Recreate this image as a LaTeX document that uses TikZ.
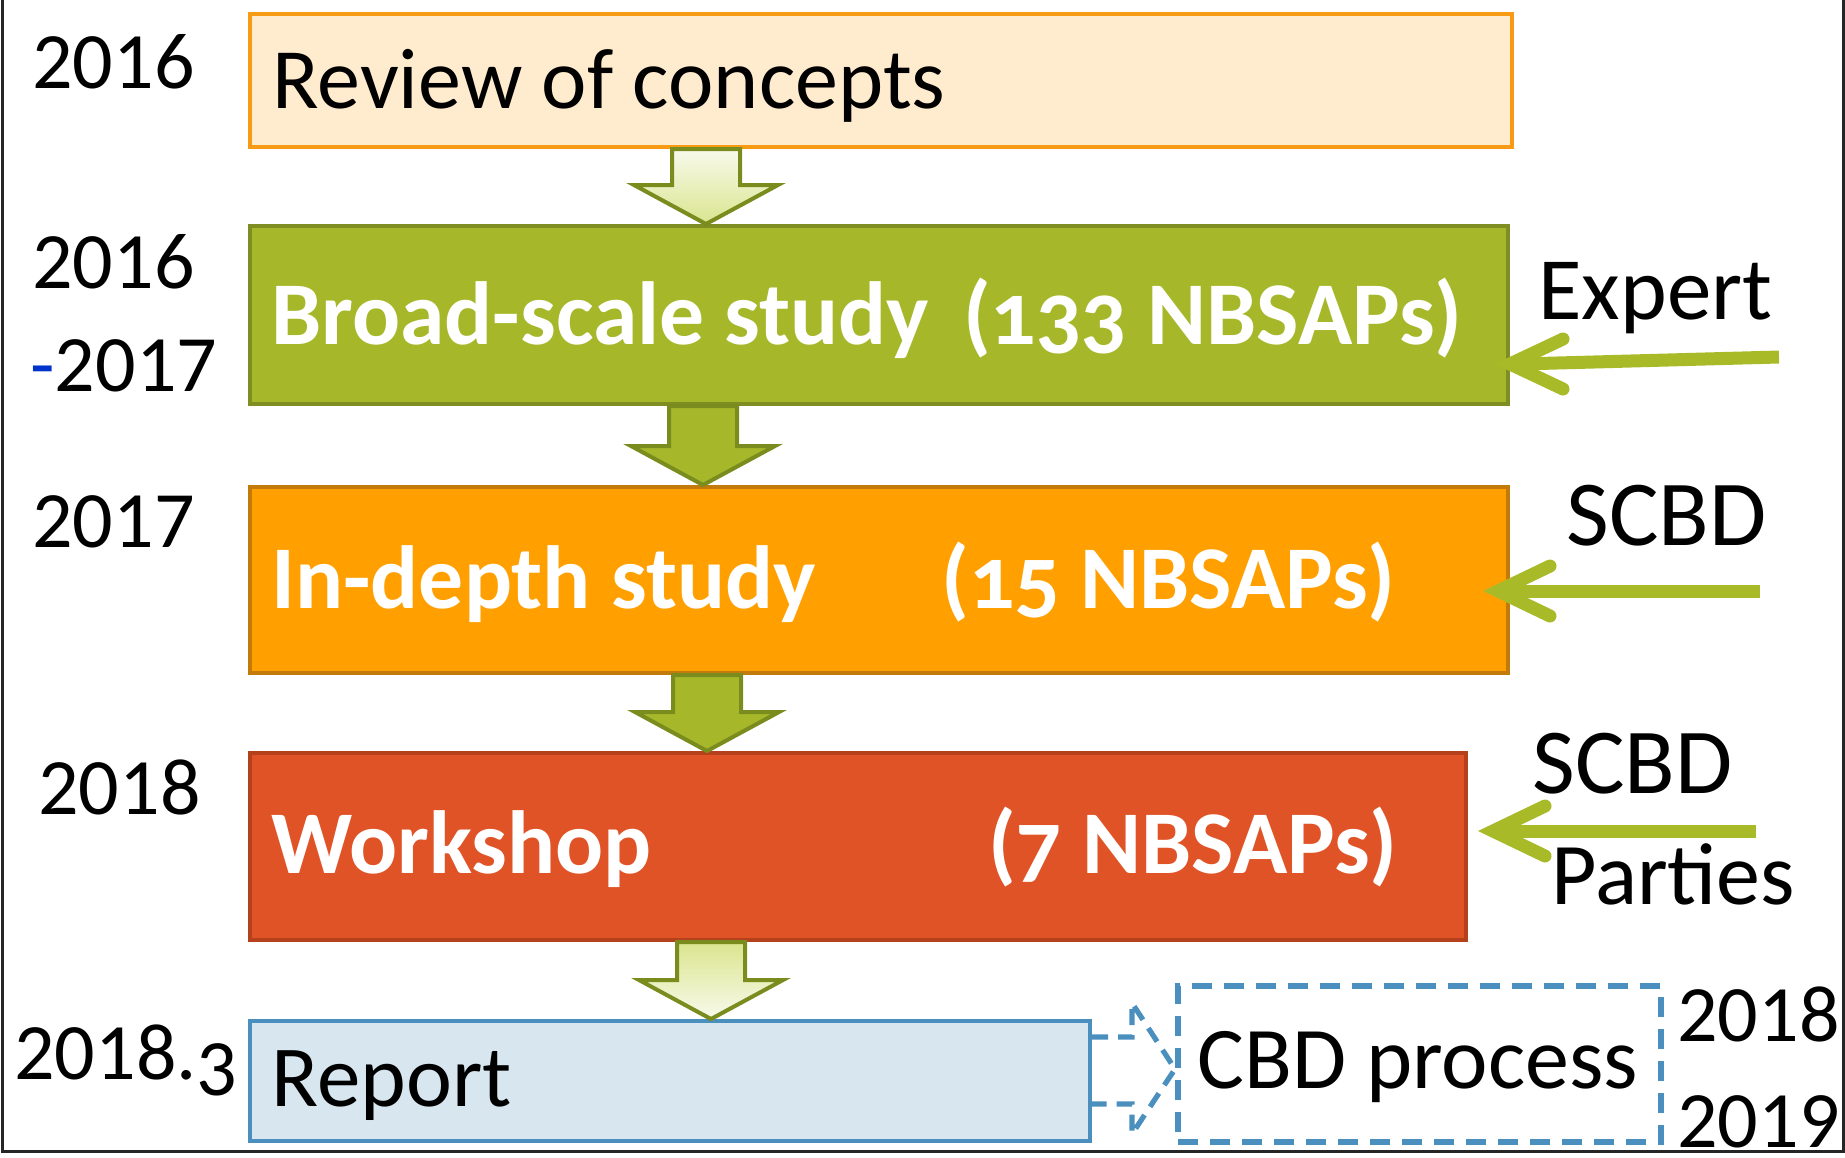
\documentclass[tikz,border=0pt]{standalone}
\usepackage{fontspec}
\setmainfont{Carlito}
\newfontfamily\oldnum{Carlito}[Numbers=OldStyle]
\usetikzlibrary{calc}
\definecolor{reviewfill}{HTML}{FFEBCD}
\definecolor{reviewdraw}{HTML}{F79A14}
\definecolor{broadfill}{HTML}{A6B829}
\definecolor{broaddraw}{HTML}{7E8E22}
\definecolor{depthfill}{HTML}{FF9F00}
\definecolor{depthdraw}{HTML}{C27A0B}
\definecolor{workfill}{HTML}{E05327}
\definecolor{workdraw}{HTML}{B5401C}
\definecolor{reportfill}{HTML}{D7E6EF}
\definecolor{reportdraw}{HTML}{4A8FBD}
\definecolor{inputgreen}{HTML}{A9BA28}
\definecolor{olive}{HTML}{7A8C1E}
\definecolor{lightgreen}{HTML}{DAE58E}
\definecolor{palegreen}{HTML}{F8FAEC}
\definecolor{dashblue}{HTML}{0033CC}
\tikzset{
  box/.style={rectangle, line width=2pt, anchor=north west, inner sep=0pt},
  lbl/.style={inner sep=0pt, anchor=base west, font=\fontsize{40}{48}\selectfont},
  wlbl/.style={inner sep=0pt, anchor=base west, text=white, font=\fontsize{44.8}{52}\selectfont\bfseries\oldnum},
  blk/.style={draw=olive, line width=2pt, line join=miter},
  inline/.style={draw=inputgreen, line width=6.5pt},
  inarm/.style={draw=inputgreen, line width=6.5pt, line cap=round, line join=miter, miter limit=10},
}
\begin{document}
\begin{tikzpicture}[x=0.5pt, y=-0.5pt]
\useasboundingbox (0,0) rectangle (1845,1157);
% frame
\draw[line width=1.5pt, black!85] (2,0) -- (2,1151) -- (1843,1151) -- (1843,0);

% boxes
\node[box, draw=reviewdraw, fill=reviewfill, minimum width=631pt, minimum height=66.5pt] (b1) at (248,12) {};
\node[box, draw=broaddraw, fill=broadfill, minimum width=629pt, minimum height=89pt] (b2) at (248,224) {};
\node[box, draw=depthdraw, fill=depthfill, minimum width=629pt, minimum height=93pt] (b3) at (248,485) {};
\node[box, draw=workdraw, fill=workfill, minimum width=608pt, minimum height=93.5pt] (b4) at (248,751) {};
\node[box, draw=reportdraw, fill=reportfill, minimum width=420pt, minimum height=60pt] (b5) at (248,1019) {};
\node[box, draw=reportdraw, line width=2.8pt, dash pattern=on 10pt off 6pt, minimum width=241.5pt, minimum height=78pt] (cbd) at (1175,983) {};

% block arrows between boxes
\coordinate (x1) at (706,0);
\coordinate (x2) at (703,0);
\coordinate (x3) at (707,0);
\coordinate (x4) at (711,0);
\path[blk, top color=palegreen, bottom color=lightgreen]
  (b2.north -| x1) -- ++(72,-39) -- ++(-38,0) -- ($(b1.south -| x1)+(34,0)$) -- ++(-68,0)
  -- ($(b2.north -| x1)+(-34,-39)$) -- ++(-38,0) -- cycle;
\path[blk, fill=broadfill]
  (b3.north -| x2) -- ++(72,-39) -- ++(-38,0) -- ($(b2.south -| x2)+(34,0)$) -- ++(-68,0)
  -- ($(b3.north -| x2)+(-34,-39)$) -- ++(-38,0) -- cycle;
\path[blk, fill=broadfill]
  (b4.north -| x3) -- ++(72,-39) -- ++(-38,0) -- ($(b3.south -| x3)+(34,0)$) -- ++(-68,0)
  -- ($(b4.north -| x3)+(-34,-39)$) -- ++(-38,0) -- cycle;
\path[blk, top color=lightgreen, bottom color=palegreen]
  (b5.north -| x4) -- ++(72,-39) -- ++(-38,0) -- ($(b4.south -| x4)+(34,0)$) -- ++(-68,0)
  -- ($(b5.north -| x4)+(-34,-39)$) -- ++(-38,0) -- cycle;

% dashed block arrow from report to CBD process
\coordinate (dtip) at (cbd.west |- 0,1069);
\draw[reportdraw, line width=2.6pt, dash pattern=on 8pt off 5pt, line join=miter]
  (b5.east |- 0,1037) -- (1132,1037) -- (1132,1003) -- (dtip) -- (1132,1134) -- (1132,1104) -- (b5.east |- 0,1104);

% box texts
\node[lbl, font=\fontsize{43}{50}\selectfont] (t1) at (272,108) {Review of concepts};
\node[wlbl] (t2a) at (271,344) {Broad-scale study};
\node[wlbl, anchor=base east] (t2b) at (1463,344) {(133 NBSAPs)};
\node[wlbl] (t3a) at (271,608) {In-depth study};
\node[wlbl, anchor=base east] (t3b) at (1396,608) {(15 NBSAPs)};
\node[wlbl] (t4a) at (271,873) {Workshop};
\node[wlbl, anchor=base east] (t4b) at (1398,873) {(7 NBSAPs)};
\node[lbl, font=\fontsize{43.5}{50}\selectfont] (t5) at (271,1106) {Report};
\node[lbl, font=\fontsize{44}{50}\selectfont] (t6) at (1197,1088) {CBD process};

% years
\node[lbl] (y1) at (32,88) {2016};
\node[lbl] (y2) at (32,288) {2016};
\node[lbl] (y3) at (30,391) {\textcolor{dashblue}{-}2017};
\node[lbl] (y4) at (32,547) {2017};
\node[lbl] (y5) at (38,814) {2018};
\node[lbl] (y6) at (14,1079) {2018.\raisebox{-8pt}{3}};
\node[lbl] (y7) at (1677,1041) {2018};
\node[lbl] (y8) at (1677,1147) {2019};

% input labels
\node[lbl, font=\fontsize{44.5}{52}\selectfont] (e1) at (1538,319) {Expert};
\node[lbl, font=\fontsize{46.5}{52}\selectfont] (s1) at (1566,545) {SCBD};
\node[lbl, font=\fontsize{46.5}{52}\selectfont] (s2) at (1532,793) {SCBD};
\node[lbl, font=\fontsize{44}{52}\selectfont] (p1) at (1551,904) {Parties};

% input arrows
\coordinate (ia1) at (1779,357);
\coordinate (ia2) at (1760,591);
\coordinate (ia3) at (1756,831);
\coordinate (tip1) at (b2.east |- 0,364);
\coordinate (tip2) at ($(b3.east |- ia2)+(-12,0)$);
\coordinate (tip3) at ($(b4.east |- ia3)+(25,0)$);
\draw[inline] (ia1) -- ($(tip1)+(10,0)$);
\draw[inarm] ($(tip1)+(53,-25)$) -- (tip1) -- ($(tip1)+(53,25)$);
\draw[inline] (ia2) -- ($(tip2)+(10,0)$);
\draw[inarm] ($(tip2)+(52,-25)$) -- (tip2) -- ($(tip2)+(52,25)$);
\draw[inline] (ia3) -- ($(tip3)+(10,0)$);
\draw[inarm] ($(tip3)+(52,-25)$) -- (tip3) -- ($(tip3)+(52,25)$);
\end{tikzpicture}
\end{document}
